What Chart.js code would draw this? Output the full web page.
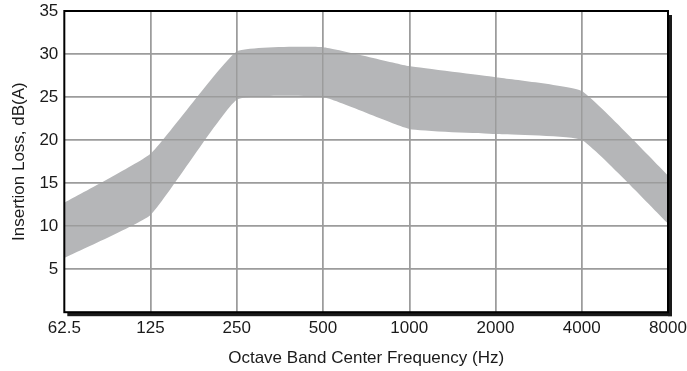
<!DOCTYPE html>
<html lang="en">
<head>
    <meta charset="UTF-8">
    <title>Insertion Loss</title>
    <script src="https://cdn.jsdelivr.net/npm/chart.js"></script>
    <style>
        body { margin: 0; background: #fff; }
    </style>
</head>
<body>
    <canvas id="myChart" width="687" height="371"></canvas>
    <script>
        // Input data
        const frequencies = ['62.5', '125', '250', '500', '1000', '2000', '4000', '8000'];
        const upperLoss = [12.7, 18.4, 30.3, 30.8, 28.6, 27.3, 25.7, 15.9];
        const lowerLoss = [6.3, 11.3, 24.7, 25.0, 21.3, 20.7, 20.0, 10.3];
        const yTicks = [5, 10, 15, 20, 25, 30, 35];

        const fontFamily = '"Liberation Sans", Arial, sans-serif';

        // redraw grid over the band, then the framed border with drop shadow
        const framePlugin = {
            id: 'frame',
            afterDatasetsDraw(chart) {
                const area = chart.chartArea;
                const ctx = chart.ctx;
                chart.scales.x.drawGrid(area);
                chart.scales.y.drawGrid(area);
                ctx.save();
                ctx.fillStyle = '#1a1a1a';
                ctx.fillRect(area.left + 3, area.bottom, area.right - area.left + 1, 4);
                ctx.fillRect(area.right, area.top + 4, 4, area.bottom - area.top);
                ctx.strokeStyle = '#000';
                ctx.lineWidth = 2;
                ctx.strokeRect(area.left, area.top, area.right - area.left, area.bottom - area.top);
                ctx.restore();
            }
        };

        const ctx = document.getElementById('myChart').getContext('2d');
        const myChart = new Chart(ctx, {
            type: 'line',
            data: {
                labels: frequencies,
                datasets: [{
                    label: 'Upper',
                    data: upperLoss,
                    backgroundColor: '#b5b6b8',
                    borderWidth: 0,
                    pointRadius: 0,
                    tension: 0.12,
                    fill: '+1'
                }, {
                    label: 'Lower',
                    data: lowerLoss,
                    backgroundColor: '#b5b6b8',
                    borderWidth: 0,
                    pointRadius: 0,
                    tension: 0.12,
                    fill: false
                }]
            },
            options: {
                responsive: false,
                animation: false,
                layout: { padding: { top: 11, right: 19, left: 9, bottom: 2 } },
                plugins: {
                    legend: { display: false },
                    tooltip: { enabled: false }
                },
                scales: {
                    x: {
                        offset: false,
                        afterFit: scale => {
                            scale.paddingLeft = 0;
                            scale.paddingRight = 0;
                        },
                        grid: {
                            color: ctx => (ctx.index === 0 || ctx.index === frequencies.length - 1) ? 'rgba(0,0,0,0)' : '#9c9c9c',
                            lineWidth: 1.5,
                            drawTicks: false
                        },
                        border: { display: false },
                        ticks: {
                            color: '#1a1a1a',
                            font: { family: fontFamily, size: 17 },
                            padding: 6,
                            maxRotation: 0,
                            autoSkip: false
                        },
                        title: {
                            display: true,
                            text: 'Octave Band Center Frequency (Hz)',
                            color: '#1a1a1a',
                            font: { family: fontFamily, size: 17 },
                            padding: { top: 4, bottom: 0 }
                        }
                    },
                    y: {
                        min: 0,
                        max: 35,
                        afterFit: scale => {
                            scale.paddingTop = 0;
                            scale.paddingBottom = 0;
                        },
                        afterBuildTicks: axis => {
                            axis.ticks = [0].concat(yTicks).map(v => ({ value: v }));
                        },
                        grid: {
                            color: ctx => (ctx.tick.value === 0 || ctx.tick.value === 35) ? 'rgba(0,0,0,0)' : '#9c9c9c',
                            lineWidth: 1.5,
                            drawTicks: false
                        },
                        border: { display: false },
                        ticks: {
                            color: '#1a1a1a',
                            font: { family: fontFamily, size: 17 },
                            padding: 6,
                            callback: v => v === 0 ? '' : v
                        },
                        title: {
                            display: true,
                            text: 'Insertion Loss, dB(A)',
                            color: '#1a1a1a',
                            font: { family: fontFamily, size: 17 },
                            padding: { top: 0, bottom: 4 }
                        }
                    }
                }
            },
            plugins: [framePlugin]
        });
    </script>
</body>
</html>
